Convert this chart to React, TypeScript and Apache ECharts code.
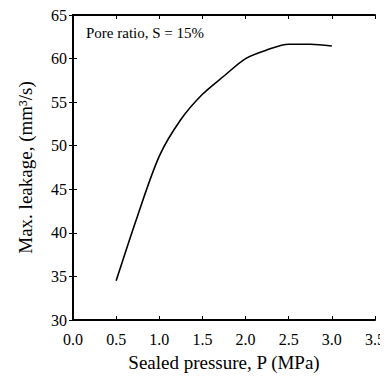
import React, { useEffect, useRef } from "react";
import * as echarts from "echarts";

const pressure = [0.5, 0.75, 1.0, 1.25, 1.5, 1.75, 2.0, 2.25, 2.5, 2.75, 3.0];
const leakage = [34.5, 42.0, 48.8, 53.0, 55.9, 58.0, 60.0, 61.0, 61.65, 61.65, 61.45];
const xTicks = ["0.0", "0.5", "1.0", "1.5", "2.0", "2.5", "3.0", "3.5"];
const yTicks = ["30", "35", "40", "45", "50", "55", "60", "65"];
const annotation = "Pore ratio, S = 15%";
const xName = "Sealed pressure, P (MPa)";
const yName = "Max. leakage, (mm³/s)";

const FONT = "Liberation Serif";

export default function App() {
  const ref = useRef<HTMLDivElement>(null);
  useEffect(() => {
    if (!ref.current) return;
    const chart = echarts.init(ref.current, null, { renderer: "svg" });
    const axisLine = { show: true, lineStyle: { color: "#000", width: 2 } };
    const tick = { show: true, inside: true, length: 4, lineStyle: { color: "#000", width: 1 } };
    chart.setOption({
      animation: false,
      backgroundColor: "#fff",
      grid: { left: 73, top: 15, right: 11, bottom: 64 },
      xAxis: [
        {
          type: "value",
          min: 0,
          max: 3.5,
          interval: 0.5,
          position: "bottom",
          axisLine,
          axisTick: tick,
          splitLine: { show: false },
          axisLabel: {
            color: "#000",
            fontFamily: FONT,
            fontSize: 16,
            margin: 11,
            formatter: (v: number) => xTicks[Math.round(v / 0.5)] ?? v.toFixed(1),
          },
          name: xName,
          nameLocation: "middle",
          nameGap: 33,
          nameTextStyle: { color: "#000", fontFamily: FONT, fontSize: 19 },
        },
        {
          type: "value",
          min: 0,
          max: 3.5,
          interval: 0.5,
          position: "top",
          axisLine,
          axisTick: tick,
          axisLabel: { show: false },
          splitLine: { show: false },
        },
      ],
      yAxis: [
        {
          type: "value",
          min: 30,
          max: 65,
          interval: 5,
          position: "left",
          axisLine,
          axisTick: tick,
          splitLine: { show: false },
          axisLabel: {
            color: "#000",
            fontFamily: FONT,
            fontSize: 16,
            margin: 6,
            formatter: (v: number) => yTicks[Math.round((v - 30) / 5)] ?? String(v),
          },
          name: yName,
          nameLocation: "middle",
          nameGap: 38,
          nameTextStyle: { color: "#000", fontFamily: FONT, fontSize: 19 },
        },
        {
          type: "value",
          min: 30,
          max: 65,
          interval: 5,
          position: "right",
          axisLine,
          axisTick: tick,
          axisLabel: { show: false },
          splitLine: { show: false },
        },
      ],
      graphic: [
        {
          type: "text",
          left: 86,
          top: 25,
          style: { text: annotation, fill: "#000", fontFamily: FONT, fontSize: 15 },
        },
      ],
      series: [
        {
          type: "line",
          data: pressure.map((p, i) => [p, leakage[i]]),
          smooth: 0.3,
          showSymbol: false,
          symbol: "none",
          lineStyle: { color: "#000", width: 1.6 },
          xAxisIndex: 0,
          yAxisIndex: 0,
        },
      ],
    });
    return () => chart.dispose();
  }, []);
  return <div ref={ref} style={{ width: 388, height: 384, margin: -8 }} />;
}
